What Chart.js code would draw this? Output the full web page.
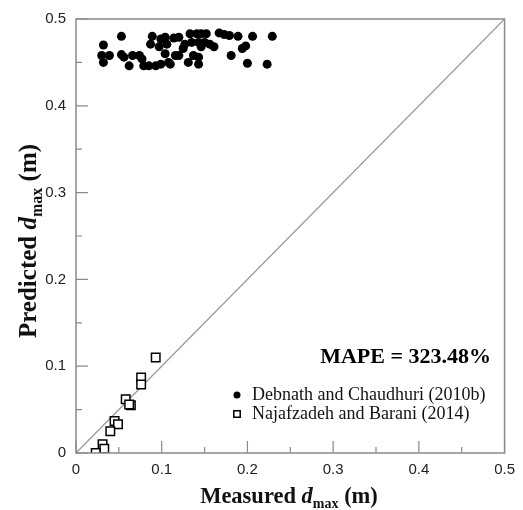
<!DOCTYPE html>
<html>
<head>
<meta charset="utf-8">
<script src="https://cdn.jsdelivr.net/npm/chart.js@4.4.1/dist/chart.umd.min.js"></script>
<style>
  html, body { margin: 0; padding: 0; background: #fff; }
  canvas { display: block; }
</style>
</head>
<body>
<canvas id="scatterChart" width="523" height="510"></canvas>
<script>
// Debnath and Chaudhuri (2010b) - filled circles
const debnathX = [0.053, 0.032, 0.030, 0.032, 0.039, 0.053, 0.056, 0.062, 0.066, 0.074,
  0.077, 0.079, 0.085, 0.093, 0.099, 0.108, 0.089, 0.087, 0.097, 0.099,
  0.104, 0.106, 0.104, 0.114, 0.116, 0.120, 0.133, 0.141, 0.146, 0.152,
  0.127, 0.135, 0.143, 0.150, 0.156, 0.125, 0.146, 0.120, 0.137, 0.143,
  0.131, 0.143, 0.110, 0.167, 0.173, 0.179, 0.189, 0.206, 0.229, 0.198,
  0.194, 0.181, 0.200, 0.223, 0.161];
const debnathY = [0.480, 0.470, 0.458, 0.450, 0.458, 0.459, 0.456, 0.446, 0.458, 0.458,
  0.454, 0.446, 0.446, 0.446, 0.448, 0.450, 0.480, 0.471, 0.468, 0.477,
  0.479, 0.471, 0.460, 0.478, 0.458, 0.479, 0.483, 0.483, 0.483, 0.483,
  0.471, 0.473, 0.473, 0.473, 0.471, 0.466, 0.468, 0.458, 0.458, 0.456,
  0.450, 0.448, 0.448, 0.484, 0.482, 0.481, 0.480, 0.480, 0.480, 0.469,
  0.466, 0.458, 0.449, 0.448, 0.468];

// Najafzadeh and Barani (2014) - open squares
const najafX = [0.093, 0.076, 0.076, 0.058, 0.064, 0.062, 0.045, 0.049, 0.040, 0.031, 0.033, 0.023];
const najafY = [0.110, 0.087, 0.079, 0.062, 0.055, 0.056, 0.037, 0.033, 0.025, 0.010, 0.005, 0.000];

// 1:1 line
const lineX = [0, 0.5];
const lineY = [0, 0.5];

const seriesNames = ["Debnath and Chaudhuri (2010b)", "Najafzadeh and Barani (2014)"];
const mapeText = "MAPE = 323.48%";
const axisMin = 0, axisMax = 0.5, majorStep = 0.1;

const toPoints = (xs, ys) => xs.map((x, i) => ({ x: x, y: ys[i] }));

const frameColor = "#8a8a8a";
const serif = "'Liberation Serif', 'DejaVu Serif', serif";

// frame, inward ticks, legend, titles
const decorPlugin = {
  id: "decor",
  afterDraw(chart) {
    const ctx = chart.ctx;
    const a = chart.chartArea;
    const xs = chart.scales.x, ys = chart.scales.y;
    ctx.save();
    ctx.strokeStyle = frameColor;
    ctx.lineWidth = 1.5;
    ctx.strokeRect(a.left, a.top, a.right - a.left, a.bottom - a.top);

    ctx.lineWidth = 1.2;
    ctx.beginPath();
    for (let v = axisMin; v <= axisMax + 1e-9; v += majorStep / 2) {
      const major = Math.abs(v / majorStep - Math.round(v / majorStep)) < 1e-6;
      const len = major ? 12 : 6;
      const px = xs.getPixelForValue(v);
      const py = ys.getPixelForValue(v);
      ctx.moveTo(px, a.bottom);
      ctx.lineTo(px, a.bottom - len);
      ctx.moveTo(a.left, py);
      ctx.lineTo(a.left + len, py);
    }
    ctx.stroke();

    // MAPE
    ctx.fillStyle = "#000";
    ctx.font = "bold 22px " + serif;
    ctx.textAlign = "right";
    ctx.textBaseline = "alphabetic";
    ctx.fillText(mapeText, 491, 363);

    // legend
    ctx.font = "18px " + serif;
    ctx.textAlign = "left";
    const rows = [400, 419];
    const legendMarkers = [
      { style: "circle", r: 3.5, fill: "#000", stroke: "#000", w: 0 },
      { style: "rect", r: 3.2, fill: "#fff", stroke: "#000", w: 1.5 }
    ];
    legendMarkers.forEach((m, i) => {
      const mx = 237, my = rows[i] - 5;
      ctx.fillStyle = m.fill;
      ctx.strokeStyle = m.stroke;
      ctx.lineWidth = m.w;
      ctx.beginPath();
      if (m.style === "circle") {
        ctx.arc(mx, my, m.r, 0, Math.PI * 2);
        ctx.fill();
      } else {
        ctx.rect(mx - m.r, my - m.r, 2 * m.r, 2 * m.r);
        ctx.fill();
        ctx.stroke();
      }
      ctx.fillStyle = "#111";
      ctx.fillText(seriesNames[i], 252, rows[i]);
    });

    // axis titles with subscript
    const drawTitle = (cx, cy, word, size) => {
      const f1 = "bold " + size + "px " + serif;
      const f2 = "bold italic " + size + "px " + serif;
      const f3 = "bold " + Math.round(size * 0.62) + "px " + serif;
      const parts = [[word + " ", f1, 0], ["d", f2, 0], ["max", f3, size * 0.22], [" (m)", f1, 0]];
      let total = 0;
      parts.forEach(p => { ctx.font = p[1]; total += ctx.measureText(p[0]).width; });
      let x = cx - total / 2;
      ctx.fillStyle = "#111";
      ctx.textAlign = "left";
      parts.forEach(p => {
        ctx.font = p[1];
        ctx.fillText(p[0], x, cy + p[2]);
        x += ctx.measureText(p[0]).width;
      });
    };
    drawTitle(289, 503, "Measured", 22.5);
    ctx.translate(36, 241);
    ctx.rotate(-Math.PI / 2);
    drawTitle(0, 0, "Predicted", 25);
    ctx.restore();
  }
};

const tickFont = { family: "'Liberation Sans', Arial, sans-serif", size: 15 };

new Chart(document.getElementById("scatterChart"), {
  type: "scatter",
  data: {
    datasets: [
      {
        label: seriesNames[0],
        data: toPoints(debnathX, debnathY),
        pointStyle: "circle",
        pointRadius: 4.5,
        borderWidth: 0,
        backgroundColor: "#000",
        borderColor: "#000"
      },
      {
        label: seriesNames[1],
        data: toPoints(najafX, najafY),
        pointStyle: "rect",
        pointRadius: 6,
        borderWidth: 1.5,
        backgroundColor: "#fff",
        borderColor: "#000"
      },
      {
        type: "line",
        label: "1:1",
        data: toPoints(lineX, lineY),
        borderColor: "#9a9a9a",
        borderWidth: 1.3,
        pointRadius: 0,
        fill: false
      }
    ]
  },
  options: {
    responsive: false,
    animation: false,
    layout: { padding: { top: 17, right: 12, left: 0, bottom: 0 } },
    plugins: { legend: { display: false }, tooltip: { enabled: false } },
    scales: {
      x: {
        type: "linear",
        min: axisMin,
        max: axisMax,
        grid: { display: false, drawTicks: false },
        border: { display: false },
        ticks: {
          stepSize: majorStep,
          padding: 8,
          color: "#222",
          font: tickFont,
          maxRotation: 0,
          callback: v => String(+v.toFixed(1))
        },
        afterFit: s => { s.height = 57; }
      },
      y: {
        type: "linear",
        min: axisMin,
        max: axisMax,
        grid: { display: false, drawTicks: false },
        border: { display: false },
        ticks: {
          stepSize: majorStep,
          padding: 10,
          color: "#222",
          font: tickFont,
          callback: v => String(+v.toFixed(1))
        },
        afterFit: s => { s.width = 76; }
      }
    }
  },
  plugins: [decorPlugin]
});
</script>
</body>
</html>
